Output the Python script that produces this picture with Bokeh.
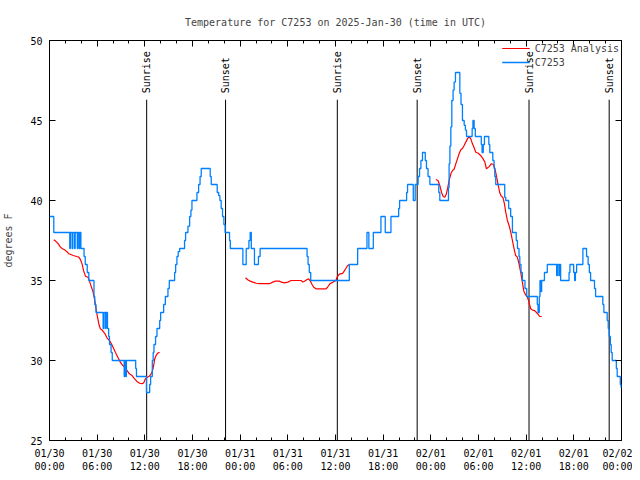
import math
from bokeh.plotting import figure
from bokeh.models import Range1d, FixedTicker, LinearAxis, Legend, LegendItem
from bokeh.core.properties import value
from bokeh.embed import file_html
from bokeh.resources import INLINE

MONO = "DejaVu Sans Mono"

title_text = "Temperature for C7253 on 2025-Jan-30 (time in UTC)"
y_label = "degrees F"

# hours since 2025-01-30 00:00 UTC
tick_hours = [0, 6, 12, 18, 24, 30, 36, 42, 48, 54, 60, 66, 72]
tick_labels = ["01/30\n00:00", "01/30\n06:00", "01/30\n12:00", "01/30\n18:00",
               "01/31\n00:00", "01/31\n06:00", "01/31\n12:00", "01/31\n18:00",
               "02/01\n00:00", "02/01\n06:00", "02/01\n12:00", "02/01\n18:00",
               "02/02\n00:00"]
y_ticks = [25, 30, 35, 40, 45, 50]

sun_hours = [12.23, 22.16, 36.23, 46.28, 60.36, 70.45]
sun_labels = ["Sunrise", "Sunset", "Sunrise", "Sunset", "Sunrise", "Sunset"]

# observations (C7253), change points of the stepped series
obs = [(0, 39), (0.54, 38),
       (2.55, 37), (2.63, 38), (2.85, 37), (2.93, 38), (3.15, 37), (3.23, 38),
       (3.5, 37), (3.58, 38), (3.75, 37), (3.83, 38),
       (3.95, 37), (4.35, 36.5),
       (4.5, 36), (4.75, 35.5), (4.95, 35), (5.6, 34), (5.7, 33.5), (5.85, 33),
       (6.75, 32), (6.85, 33), (7.05, 32), (7.13, 33), (7.3, 32), (7.45, 31.5), (7.55, 31),
       (7.75, 30.5), (7.9, 30), (9.4, 29), (9.47, 30), (9.6, 29), (9.68, 30), (10.85, 29.5),
       (10.95, 29),
       (12.2, 28), (12.61, 28.5), (12.73, 29), (12.94, 30), (13.05, 30.5), (13.15, 31),
       (13.35, 31.5), (13.53, 32), (13.87, 32.5), (13.99, 33), (14.37, 33.5), (14.58, 34),
       (14.91, 34.5), (15.08, 35), (15.75, 35.5), (15.88, 36), (16.04, 36.5), (16.2, 36.8),
       (16.38, 37), (17.0, 37.5), (17.13, 38), (17.43, 38.4), (17.64, 39), (17.8, 39.4),
       (17.93, 40), (18.56, 40.5), (18.77, 41), (18.95, 41.5), (19.1, 42), (20.23, 41.5),
       (20.36, 41), (21.11, 40.5), (21.3, 40.3), (21.45, 40), (21.61, 39.5), (21.78, 39),
       (21.95, 38.5), (22.1, 38), (22.66, 37.5), (22.76, 37), (24.34, 36), (24.76, 37),
       (25.1, 37.5), (25.26, 38), (25.4, 37), (25.8, 36), (26.3, 36.5), (26.51, 37),
       (32.42, 36.5), (32.55, 36), (32.7, 35.5), (32.88, 35), (37.74, 36), (38.79, 37),
       (39.96, 38), (40.2, 37), (40.76, 38), (41.72, 39), (42.26, 38), (42.98, 39),
       (43.95, 39.5), (44.07, 40), (44.95, 40.5), (45.07, 41), (45.79, 40), (46.03, 41),
       (46.4, 41.5), (46.58, 42), (46.75, 42.5), (46.95, 43), (47.3, 42.5), (47.45, 42),
       (47.65, 41.5), (47.88, 41), (49.0, 40.5), (49.13, 40), (50.22, 40.8), (50.3, 42.3),
       (50.4, 43.4), (50.52, 44.6), (50.64, 46.25), (50.8, 46.9), (50.93, 47.4), (51.1, 48),
       (51.65, 46.7), (51.8, 46), (51.98, 45), (52.2, 44.7), (52.35, 44.4), (52.49, 44),
       (53.2, 44.5), (53.3, 45), (53.45, 44.5), (53.6, 44), (54.35, 43.5), (54.45, 43),
       (54.6, 43.5), (54.75, 44), (55.3, 43.5), (55.42, 43), (55.8, 42.5), (55.96, 42),
       (56.05, 41.5), (56.17, 41), (57.3, 40.2), (57.43, 40), (57.8, 39.5), (58.05, 39),
       (58.27, 38), (58.75, 37.5), (58.9, 37), (59.1, 36.5), (59.2, 36), (59.35, 35.5),
       (59.52, 35), (59.85, 34.5), (60.07, 34), (61.4, 33.5), (61.5, 33), (61.65, 34),
       (61.74, 35), (61.82, 34.3), (61.95, 35), (62.3, 35.5), (62.66, 36), (63.84, 35.3),
       (63.92, 36), (64.12, 35.3), (64.2, 36), (64.34, 35), (65.4, 35.5), (65.51, 36),
       (65.98, 35.5), (66.1, 35), (66.2, 35.5), (66.35, 36), (67.14, 37), (67.6, 36.5),
       (67.8, 36), (67.95, 35.5), (68.11, 35), (68.6, 34.5), (68.74, 34), (69.65, 33.5),
       (69.78, 33), (70.2, 32.5), (70.33, 32), (70.45, 31.5), (70.6, 31), (70.7, 30.5),
       (70.83, 30), (71.35, 29.5), (71.46, 29), (71.85, 28.5), (71.96, 28.3), (72.0, 28.3)]
obs_hours = [a for a, b in obs]
obs_temp = [b for a, b in obs]

# analysis (C7253 Analysis); None marks gaps
nan = float("nan")
ana = [(0.54, 37.55), (0.8, 37.45), (1.09, 37.3), (1.35, 37.1), (1.59, 37.0), (1.95, 36.9),
       (2.2, 36.8), (2.43, 36.67), (3.0, 36.56), (3.4, 36.5), (3.69, 36.46), (3.9, 36.3),
       (4.1, 36.04), (4.3, 35.6), (4.52, 35.27), (4.85, 35.2), (5.07, 34.9), (5.27, 34.6),
       (5.49, 34.27), (5.7, 33.75), (5.86, 33.23), (6.05, 32.7), (6.2, 32.3), (6.4, 31.98),
       (6.62, 31.9), (6.95, 31.7), (7.25, 31.4), (7.55, 31.25), (7.79, 31.04), (8.0, 30.83),
       (8.29, 30.52), (8.6, 30.2), (8.92, 29.9), (9.2, 29.7), (9.47, 29.58), (9.75, 29.38),
       (10.05, 29.17), (10.4, 29.06), (10.72, 28.85), (11.0, 28.69), (11.35, 28.58),
       (11.65, 28.55), (11.85, 28.6), (12.06, 28.85), (12.3, 28.95), (12.56, 29.02),
       (12.85, 29.2), (13.03, 29.48), (13.15, 29.8), (13.24, 30.1), (13.45, 30.35),
       (13.66, 30.48), (13.87, 30.5), (None, None),
       (24.67, 35.17), (24.95, 35.05), (25.26, 34.96), (25.6, 34.9), (26.01, 34.83),
       (26.4, 34.8), (27.69, 34.8), (28.1, 34.9), (28.44, 34.96), (28.9, 34.96),
       (29.2, 34.9), (29.57, 34.85), (30.0, 34.9), (30.41, 35.0), (31.67, 35.0),
       (31.9, 34.9), (32.1, 34.96), (32.42, 35.06), (32.63, 35.1), (32.85, 34.95),
       (33.05, 34.75), (33.26, 34.58), (33.55, 34.48), (34.81, 34.48), (35.0, 34.58),
       (35.31, 34.8), (35.7, 34.9), (36.06, 35.0), (36.19, 35.2), (36.48, 35.4),
       (36.9, 35.45), (37.11, 35.6), (37.3, 35.75), (37.53, 35.94), (37.74, 36.0),
       (None, None),
       (48.63, 41.31), (48.9, 41.25), (49.13, 40.94), (49.35, 40.5), (49.55, 40.25),
       (49.76, 40.2), (49.95, 40.4), (50.14, 40.83), (50.3, 41.25), (50.52, 41.67),
       (50.73, 41.88), (50.93, 41.95), (51.14, 42.29), (51.35, 42.6), (51.56, 42.92),
       (51.77, 43.17), (51.98, 43.25), (52.19, 43.44), (52.4, 43.65), (52.61, 43.85),
       (52.82, 44.0), (53.03, 43.85), (53.24, 43.54), (53.45, 43.3), (53.66, 43.02),
       (53.98, 42.95), (54.29, 42.8), (54.58, 42.6), (54.8, 42.4), (55.0, 41.98),
       (55.3, 42.1), (55.63, 42.3), (55.88, 42.25), (56.07, 41.98), (56.25, 41.56),
       (56.45, 41.04), (56.67, 40.5), (56.83, 40.3), (57.09, 40.17), (57.26, 39.8),
       (57.43, 39.27), (57.64, 38.75), (57.85, 38.44), (58.06, 38.02), (58.27, 37.5),
       (58.48, 36.98), (58.68, 36.56), (58.89, 36.46), (59.1, 36.04), (59.31, 35.52),
       (59.52, 34.9), (59.7, 34.35), (59.94, 34.1), (60.15, 33.96), (60.36, 33.65),
       (60.57, 33.23), (60.8, 33.15), (61.07, 33.12), (61.3, 33.0), (61.49, 32.9),
       (61.7, 32.75), (61.95, 32.75)]
ana_hours = [nan if a is None else a for a, b in ana]
ana_temp = [nan if b is None else b for a, b in ana]

RED = "#ff0000"
BLUE = "#0080ff"

p = figure(width=632, height=474, x_range=Range1d(0, 72), y_range=Range1d(25, 50),
           output_backend="svg", toolbar_location=None,
           min_border_left=48, min_border_right=11, min_border_top=40, min_border_bottom=34)
p.background_fill_color = "white"
p.border_fill_color = "white"
p.outline_line_color = "black"
p.outline_line_width = 1
p.outline_line_alpha = 1
p.grid.visible = False

p.title.text = title_text
p.title.align = "center"
p.title.text_font = MONO
p.title.text_font_size = "10px"
p.title.text_font_style = "normal"
p.title.standoff = 26

xt = FixedTicker(ticks=tick_hours, minor_ticks=list(range(0, 73, 2)))
yt = FixedTicker(ticks=y_ticks, minor_ticks=[])

for ax in p.xaxis:
    ax.ticker = xt
    ax.major_label_overrides = {h: lab for h, lab in zip(tick_hours, tick_labels)}
    ax.major_label_standoff = 7
for ax in p.yaxis:
    ax.ticker = yt
    ax.axis_label = y_label
    ax.axis_label_text_font = MONO
    ax.axis_label_text_font_size = "10px"
    ax.axis_label_text_font_style = "normal"
    ax.axis_label_standoff = 13
    ax.major_label_standoff = 7

for ax in list(p.xaxis) + list(p.yaxis):
    ax.axis_line_color = None
    ax.major_tick_in = 6
    ax.major_tick_out = 0
    ax.minor_tick_in = 3
    ax.minor_tick_out = 0
    ax.major_tick_line_color = "black"
    ax.minor_tick_line_color = "black"
    ax.major_label_text_font = MONO
    ax.major_label_text_font_size = "10px"
    ax.major_label_text_color = "black"

top_ax = LinearAxis(ticker=xt, axis_line_color=None,
                    major_tick_in=6, major_tick_out=0, minor_tick_in=3, minor_tick_out=0,
                    major_label_standoff=0,
                    major_label_overrides={h: "" for h in tick_hours})
right_ax = LinearAxis(ticker=yt, axis_line_color=None,
                      major_tick_in=6, major_tick_out=0, minor_tick_in=0, minor_tick_out=0,
                      major_label_standoff=0,
                      major_label_overrides={v: "" for v in y_ticks})
p.add_layout(top_ax, "above")
p.add_layout(right_ax, "right")

# sunrise / sunset markers
line_top = 46.3
label_y = 46.7
p.segment(x0=sun_hours, y0=[line_top] * len(sun_hours), x1=sun_hours, y1=[25] * len(sun_hours),
          line_color="black", line_width=1)
p.text(x=sun_hours, y=[label_y] * len(sun_hours), text=sun_labels, angle=math.pi / 2,
       text_align="left", text_baseline="middle", text_font=value(MONO),
       text_font_size="10px", text_color="black")

r_red = p.line(ana_hours, ana_temp, line_color=RED, line_width=1.2)
r_blue = p.step(obs_hours, obs_temp, mode="after", line_color=BLUE, line_width=1.3)

legend = Legend(items=[LegendItem(label="C7253 Analysis", renderers=[r_red]),
                       LegendItem(label="C7253", renderers=[r_blue])],
                location="top_right", border_line_color=None, background_fill_alpha=0,
                label_text_font=MONO, label_text_font_size="10px", glyph_width=28,
                glyph_height=12, label_height=12, spacing=2, padding=2, margin=2)
p.add_layout(legend)

open("out.html", "w").write(file_html(p, INLINE))
